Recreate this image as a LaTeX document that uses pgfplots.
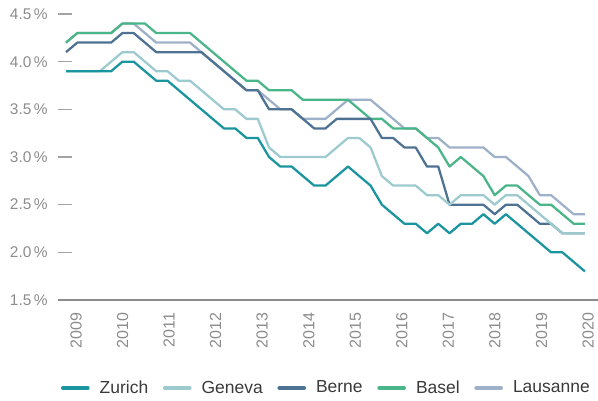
\documentclass[border=0pt]{standalone}
\usepackage{pgfplots}
\usepackage{pgfplotstable}
\usepackage{fontspec}
\setmainfont{Liberation Sans}
\pgfplotsset{compat=1.18}
\definecolor{czur}{HTML}{1A949F}
\definecolor{cgen}{HTML}{9DCACF}
\definecolor{cber}{HTML}{4E7293}
\definecolor{cbas}{HTML}{4BB58A}
\definecolor{clau}{HTML}{9FB1C9}
\definecolor{ctick}{HTML}{8C8C8C}
\definecolor{cleg}{HTML}{3A3A3A}
\pgfplotstableread{
q z g b ba l
0 3.9 3.9 4.1 4.2 4.2
1 3.9 3.9 4.2 4.3 4.3
2 3.9 3.9 4.2 4.3 4.3
3 3.9 3.9 4.2 4.3 4.3
4 3.9 4.0 4.2 4.3 4.3
5 4.0 4.1 4.3 4.4 4.4
6 4.0 4.1 4.3 4.4 4.4
7 3.9 4.0 4.2 4.4 4.3
8 3.8 3.9 4.1 4.3 4.2
9 3.8 3.9 4.1 4.3 4.2
10 3.7 3.8 4.1 4.3 4.2
11 3.6 3.8 4.1 4.3 4.2
12 3.5 3.7 4.1 4.2 4.1
13 3.4 3.6 4.0 4.1 4.0
14 3.3 3.5 3.9 4.0 3.9
15 3.3 3.5 3.8 3.9 3.8
16 3.2 3.4 3.7 3.8 3.7
17 3.2 3.4 3.7 3.8 3.7
18 3.0 3.1 3.5 3.7 3.6
19 2.9 3.0 3.5 3.7 3.5
20 2.9 3.0 3.5 3.7 3.5
21 2.8 3.0 3.4 3.6 3.4
22 2.7 3.0 3.3 3.6 3.4
23 2.7 3.0 3.3 3.6 3.4
24 2.8 3.1 3.4 3.6 3.5
25 2.9 3.2 3.4 3.6 3.6
26 2.8 3.2 3.4 3.5 3.6
27 2.7 3.1 3.4 3.4 3.6
28 2.5 2.8 3.2 3.4 3.5
29 2.4 2.7 3.2 3.3 3.4
30 2.3 2.7 3.1 3.3 3.3
31 2.3 2.7 3.1 3.3 3.3
32 2.2 2.6 2.9 3.2 3.2
33 2.3 2.6 2.9 3.1 3.2
34 2.2 2.5 2.5 2.9 3.1
35 2.3 2.6 2.5 3.0 3.1
36 2.3 2.6 2.5 2.9 3.1
37 2.4 2.6 2.5 2.8 3.1
38 2.3 2.5 2.4 2.6 3.0
39 2.4 2.6 2.5 2.7 3.0
40 2.3 2.6 2.5 2.7 2.9
41 2.2 2.5 2.4 2.6 2.8
42 2.1 2.4 2.3 2.5 2.6
43 2.0 2.3 2.3 2.5 2.6
44 2.0 2.2 2.2 2.4 2.5
45 1.9 2.2 2.2 2.3 2.4
46 1.8 2.2 2.2 2.3 2.4
}\data
\begin{document}
\begin{tikzpicture}
\begin{axis}[
  scale only axis,
  width=405pt, height=225pt,
  xmin=-0.71, xmax=47.16,
  ymin=1.5, ymax=4.647,
  axis lines*=left,
  x axis line style={-, draw=ctick, line width=0.9pt},
  y axis line style={draw=none},
  tick align=inside,
  major tick length=10.5pt,
  ytick style={draw=ctick!80, line width=0.9pt},
  xtick style={draw=none},
  ytick={1.5,2.0,2.5,3.0,3.5,4.0,4.5},
  yticklabels={1.5\,\%,2.0\,\%,2.5\,\%,3.0\,\%,3.5\,\%,4.0\,\%,4.5\,\%},
  yticklabel style={font=\fontsize{11.6}{13}\selectfont, text=ctick, anchor=east, inner sep=0pt, xshift=-7.5pt},
  xtick={0.89,5.02,9.14,13.27,17.39,21.52,25.65,29.77,33.90,38.02,42.15,46.28},
  xticklabels={2009,2010,2011,2012,2013,2014,2015,2016,2017,2018,2019,2020},
  xticklabel style={font=\fontsize{12}{14}\selectfont, text=ctick, rotate=90, anchor=east, inner sep=0pt, yshift=0pt, xshift=-9.5pt},
  every axis plot/.append style={line width=1.7pt, line join=round, mark=none},
  legend image code/.code={\draw[line width=3pt, line cap=round] (0pt,0pt) -- (18.5pt,0pt);},
  reverse legend,
  legend columns=-1,
  legend style={at={(0.0056,-0.293)}, anchor=west, draw=none, fill=none, inner sep=0pt, outer sep=0pt,
    font=\fontsize{13.1}{15}\selectfont, text=cleg, nodes={inner sep=0pt},
    /tikz/every odd column/.append style={column sep=7.5pt},
    /tikz/every even column/.append style={column sep=11pt}},
]
\addplot[clau] table[x=q, y=l] {\data};
\addlegendentry{Lausanne}
\addplot[cbas] table[x=q, y=ba] {\data};
\addlegendentry{Basel}
\addplot[cber] table[x=q, y=b] {\data};
\addlegendentry{Berne}
\addplot[cgen] table[x=q, y=g] {\data};
\addlegendentry{Geneva}
\addplot[czur] table[x=q, y=z] {\data};
\addlegendentry{Zurich}
\end{axis}
\pgfresetboundingbox
\path ([shift={(-43.5pt,-75pt)}]current axis.south west) rectangle (current axis.north east);
\end{tikzpicture}
\end{document}
